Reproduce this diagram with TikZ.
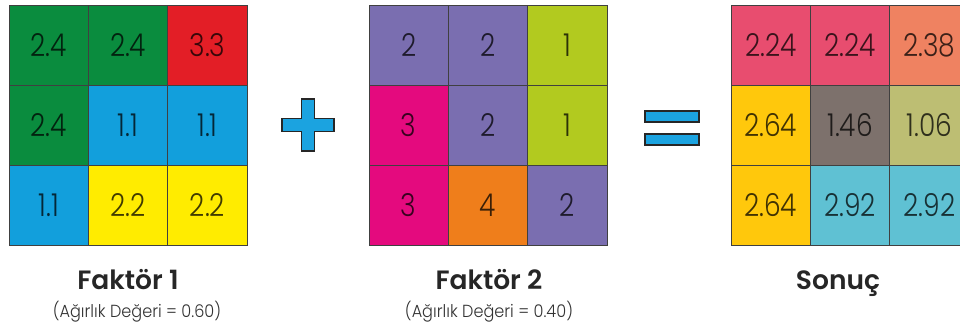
\documentclass[tikz,border=0pt]{standalone}
\usepackage{fontspec}
\setmainfont{Poppins}
\newfontfamily\numfont[FakeStretch=0.84]{Poppins Light}
\newfontfamily\capfont[FakeStretch=0.92]{Poppins Light}
\newfontfamily\headfont{Poppins SemiBold}
\usepackage{xcolor}
\usetikzlibrary{positioning}

\definecolor{fgreen}{HTML}{0A8C3E}
\definecolor{fred}{HTML}{E31E26}
\definecolor{fblue}{HTML}{129FDC}
\definecolor{fyellow}{HTML}{FFEC00}
\definecolor{fpurple}{HTML}{7A6EB0}
\definecolor{fmagenta}{HTML}{E40A7E}
\definecolor{flime}{HTML}{B2CA1F}
\definecolor{forange}{HTML}{EF7E1B}
\definecolor{spink}{HTML}{E84D6F}
\definecolor{ssalmon}{HTML}{EF8261}
\definecolor{sgold}{HTML}{FFC80C}
\definecolor{staupe}{HTML}{7D716C}
\definecolor{solive}{HTML}{BDBE73}
\definecolor{steal}{HTML}{5FC1D3}
\definecolor{opblue}{HTML}{1BA3E0}

\begin{document}
\begin{tikzpicture}[x=1pt, y=-1pt,
  cell/.style={draw=black!75, line width=0.8pt, minimum width=79.4pt, minimum height=80pt, inner sep=0pt,
    font=\numfont\fontsize{31.5}{31.5}\selectfont, text=black, text opacity=0.75},
  title/.style={anchor=base, font=\headfont\fontsize{26.5}{26.5}\selectfont, text=black!85},
  weight/.style={anchor=base, font=\capfont\fontsize{17.5}{17.5}\selectfont, text=black!80},
  op/.style={fill=opblue, draw=black!85, line width=1.1pt}]
\useasboundingbox (0,0) rectangle (960,329);
% Faktor 1
\foreach \v/\c [count=\i from 0] in {2.4/fgreen,2.4/fgreen,3.3/fred,2.4/fgreen,1.1/fblue,1.1/fblue,1.1/fblue,2.2/fyellow,2.2/fyellow}{
  \pgfmathtruncatemacro\r{\i/3}\pgfmathtruncatemacro\k{mod(\i,3)}
  \node[cell, fill=\c] (a\i) at ({9+39.7+79.4*\k},{5+40+80*\r}) {\v};}
% Faktor 2
\foreach \v/\c [count=\i from 0] in {2/fpurple,2/fpurple,1/flime,3/fmagenta,2/fpurple,1/flime,3/fmagenta,4/forange,2/fpurple}{
  \pgfmathtruncatemacro\r{\i/3}\pgfmathtruncatemacro\k{mod(\i,3)}
  \node[cell, fill=\c] (b\i) at ({369+39.7+79.4*\k},{5+40+80*\r}) {\v};}
% Sonuc
\foreach \v/\c [count=\i from 0] in {2.24/spink,2.24/spink,2.38/ssalmon,2.64/sgold,1.46/staupe,1.06/solive,2.64/sgold,2.92/steal,2.92/steal}{
  \pgfmathtruncatemacro\r{\i/3}\pgfmathtruncatemacro\k{mod(\i,3)}
  \node[cell, fill=\c] (s\i) at ({731+39.7+79.4*\k},{5+40+80*\r}) {\v};}
% operators
\draw[op] (301.5,99) -- (314.5,99) -- (314.5,118.5) -- (334,118.5) -- (334,131.5) -- (314.5,131.5)
  -- (314.5,151) -- (301.5,151) -- (301.5,131.5) -- (282,131.5) -- (282,118.5) -- (301.5,118.5) -- cycle;
\draw[op] (645,111) rectangle (699,122);
\draw[op] (645,134) rectangle (699,145);
% labels
\node[title] (t1) at (128,289) {Faktör 1};
\node[weight] (w1) at (137,317) {(Ağırlık Değeri = 0.60)};
\node[title] (t2) at (489,289) {Faktör 2};
\node[weight] (w2) at (489,317) {(Ağırlık Değeri = 0.40)};
\node[title] (t3) at (838,289) {Sonuç};
\end{tikzpicture}
\end{document}
